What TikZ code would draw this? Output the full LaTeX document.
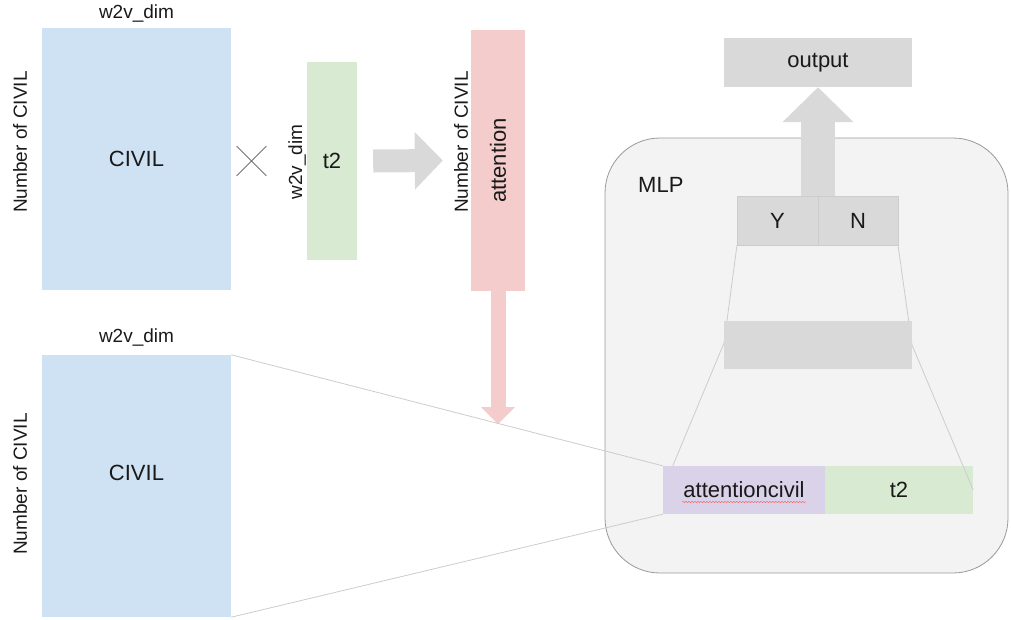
\documentclass[tikz,border=0pt]{standalone}
\usepackage{fontspec}
\setmainfont{Liberation Sans}
\usepackage{tikz}
\usetikzlibrary{arrows.meta,shapes.misc,decorations.pathmorphing,positioning}

\definecolor{civblue}{HTML}{CFE2F3}
\definecolor{tgreen}{HTML}{D9EAD3}
\definecolor{attpink}{HTML}{F4CCCC}
\definecolor{attpurple}{HTML}{D9D2E9}
\definecolor{boxgray}{HTML}{D9D9D9}
\definecolor{mlpgray}{HTML}{F3F3F3}
\definecolor{edgegray}{HTML}{999999}
\definecolor{linkgray}{HTML}{CCCCCC}

\tikzset{
  block/.style={
    inner sep = 0pt,
    shape = rectangle,
    text = black!90,
    font = \fontsize{22}{26}\selectfont
  },
  civil/.style={block, fill=civblue, minimum width=189pt, minimum height=262pt},
  vec/.style={block, minimum width=50pt, minimum height=198pt},
  cell/.style={block, fill=boxgray, minimum height=49pt},
  dimlabel/.style={
    inner sep = 0pt,
    text = black!90,
    font = \fontsize{19}{22}\selectfont
  },
  link/.style={linkgray, line width=0.8pt},
  fatarrow/.style={line cap=butt}
}

\begin{document}
\begin{tikzpicture}[x=1pt,y=-1pt]
  \useasboundingbox (0,0) rectangle (1011,619);

  % upper product: CIVIL x t2 -> attention
  \node[civil] (civA) at (136.5,159) {CIVIL};
  \node[dimlabel] (civAw) at (136.5,14) {w2v\_dim};
  \node[dimlabel, rotate=90] (civAn) at (20,142) {Number of CIVIL};
  \node[cross out, draw=black!55, line width=0.8pt, minimum size=29pt] (times) at (251.5,161) {};
  \node[vec, fill=tgreen] (tvec) at (332,161) {t2};
  \node[dimlabel, rotate=90] (tvecw) at (297,162) {w2v\_dim};
  \node[block, fill=attpink, minimum width=54pt, minimum height=261pt] (att) at (498,160.5) {};
  \node[block, rotate=90] at (att.center) {attention};
  \node[dimlabel, rotate=90] (attn) at (461,142) {Number of CIVIL};
  \draw[fatarrow, boxgray, line width=23pt, -{Triangle[width=56pt,length=28pt]}]
    ([xshift=16pt]tvec.east) -- ([xshift=-28pt]att.west);
  \draw[fatarrow, attpink, line width=15pt, -{Triangle[width=33pt,length=17pt]}]
    (att.south) -- ++(0,133) coordinate (attdown);

  % lower CIVIL
  \node[civil] (civB) at (136.5,486) {};
  \node[block] (civBt) at (136.5,473) {CIVIL};
  \node[dimlabel] (civBw) at (136.5,337) {w2v\_dim};
  \node[dimlabel, rotate=90] (civBn) at (20,484) {Number of CIVIL};

  % MLP
  \node[block, fill=mlpgray, draw=edgegray, line width=0.8pt, rounded corners=55pt,
        minimum width=403pt, minimum height=435pt] (mlp) at (806.5,355.5) {};
  \node[block, anchor=west] (mlpname) at (638,185) {MLP};
  \node[cell, minimum width=188pt] (output) at (818,62.5) {output};
  \node[block, fill=attpurple, minimum width=162pt, minimum height=48pt] (attciv) at (744,490) {attentioncivil};
  \node[block, fill=tgreen, minimum width=148pt, minimum height=48pt] (tw) at (899,490) {t2};
  \draw[red!65, line width=0.4pt, decorate,
        decoration={snake, amplitude=0.7pt, segment length=3pt}]
    (682,502) -- (806,502);

  \draw[link] (civB.north east) -- (attciv.north west);
  \draw[link] (civB.south east) -- (attciv.south west);

  \coordinate (ysw) at (737,245);
  \coordinate (nse) at (898,245);
  \draw[link] (ysw) -- (724,343) -- ([xshift=10pt]attciv.north west);
  \draw[link] (nse) -- (912,345) -- (tw.east);
  \node[cell, minimum width=188pt, minimum height=48pt] (hidden) at (818,345) {};

  \node[cell, draw=linkgray, line width=0.6pt, minimum width=81pt] (ycell) at (777.5,220.5) {Y};
  \node[cell, draw=linkgray, line width=0.6pt, minimum width=80pt] (ncell) at (858,220.5) {N};
  \draw[fatarrow, boxgray, line width=34pt, -{Triangle[width=69pt,length=35pt]}]
    (818,196) -- (output.south);
\end{tikzpicture}
\end{document}
